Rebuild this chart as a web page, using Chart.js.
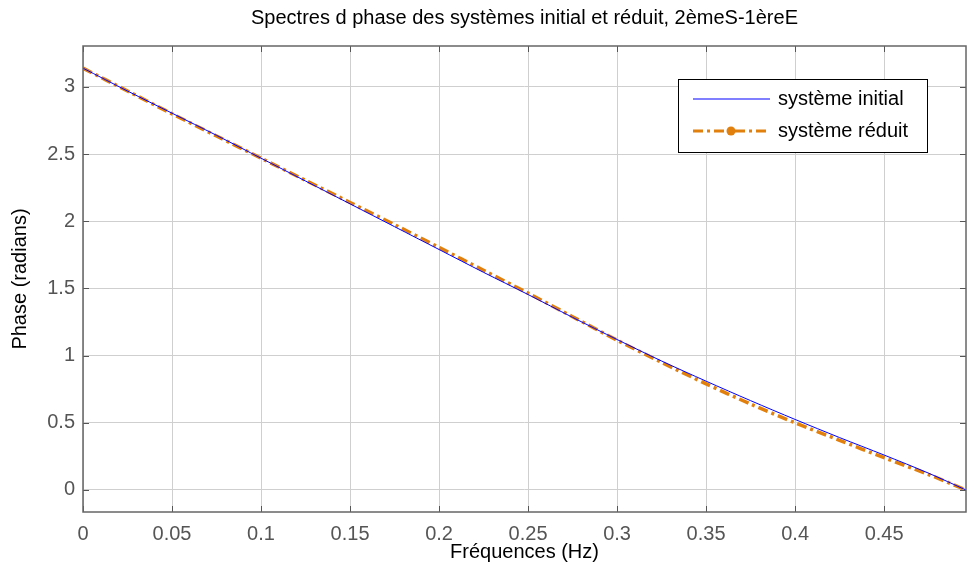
<!DOCTYPE html>
<html>
<head>
<meta charset="utf-8">
<script src="https://cdn.jsdelivr.net/npm/chart.js@4/dist/chart.umd.min.js"></script>
<style>
  html, body { margin: 0; padding: 0; background: #fff; }
  #wrap { width: 967px; height: 576px; }
</style>
</head>
<body>
<div id="wrap"><canvas id="phaseChart" width="967" height="576"></canvas></div>
<script>
// Data
const frequences = [0, 0.025, 0.05, 0.075, 0.1, 0.125, 0.15, 0.175, 0.2, 0.225, 0.25,
    0.275, 0.3, 0.325, 0.35, 0.375, 0.4, 0.425, 0.45, 0.475, 0.496];
const phaseInitial = [3.14, 2.97, 2.805, 2.64, 2.47, 2.30, 2.13, 1.96, 1.79, 1.62, 1.455,
    1.285, 1.12, 0.96, 0.81, 0.665, 0.525, 0.39, 0.26, 0.125, 0.0];
const phaseReduit = [3.14, 2.97, 2.80, 2.635, 2.47, 2.305, 2.14, 1.975, 1.805, 1.635, 1.465,
    1.29, 1.115, 0.95, 0.79, 0.64, 0.50, 0.37, 0.24, 0.115, 0.0];
const xTicks = [0, 0.05, 0.1, 0.15, 0.2, 0.25, 0.3, 0.35, 0.4, 0.45];
const yTicks = [0, 0.5, 1, 1.5, 2, 2.5, 3];
const seriesNames = ['système initial', 'système réduit'];

const BLUE = '#0000ff';
const ORANGE = 'rgb(226,128,14)';
const ORANGE_DASH = [10, 4, 3, 4];

function toPoints(ys) {
    return frequences.map((f, i) => ({ x: f, y: ys[i] }));
}

// Keep only the round tick values
function keepTicks(list) {
    return function (scale) {
        scale.ticks = list.map(v => ({ value: v }));
    };
}

// MATLAB style small inward ticks on the box
const boxTicks = {
    id: 'boxTicks',
    afterDatasetsDraw(chart) {
        const { ctx, chartArea: a, scales } = chart;
        ctx.save();
        ctx.strokeStyle = '#555';
        ctx.lineWidth = 1;
        ctx.beginPath();
        xTicks.forEach(v => {
            const px = Math.round(scales.x.getPixelForValue(v)) + 0.5;
            ctx.moveTo(px, a.bottom); ctx.lineTo(px, a.bottom - 6);
            ctx.moveTo(px, a.top); ctx.lineTo(px, a.top + 6);
        });
        yTicks.forEach(v => {
            const py = Math.round(scales.y.getPixelForValue(v)) + 0.5;
            ctx.moveTo(a.left, py); ctx.lineTo(a.left + 6, py);
            ctx.moveTo(a.right, py); ctx.lineTo(a.right - 6, py);
        });
        ctx.stroke();
        // box
        ctx.strokeStyle = '#666';
        ctx.lineWidth = 1.5;
        ctx.strokeRect(a.left, a.top, a.right - a.left, a.bottom - a.top);
        ctx.restore();
    }
};

// Legend box in the upper right corner
const boxLegend = {
    id: 'boxLegend',
    afterDraw(chart) {
        const { ctx, chartArea: a } = chart;
        const w = 249, h = 73;
        const x0 = a.right - 39 - w, y0 = a.top + 33;
        ctx.save();
        ctx.fillStyle = '#fff';
        ctx.fillRect(x0, y0, w, h);
        ctx.strokeStyle = '#000';
        ctx.lineWidth = 1;
        ctx.strokeRect(x0 + 0.5, y0 + 0.5, w, h);

        const rowY = [y0 + 20, y0 + 52];
        // système initial
        ctx.strokeStyle = BLUE;
        ctx.lineWidth = 1;
        ctx.beginPath();
        ctx.moveTo(x0 + 15, rowY[0]); ctx.lineTo(x0 + 92, rowY[0]);
        ctx.stroke();
        // système réduit
        ctx.strokeStyle = ORANGE;
        ctx.lineWidth = 3;
        ctx.setLineDash(ORANGE_DASH);
        ctx.beginPath();
        ctx.moveTo(x0 + 15, rowY[1]); ctx.lineTo(x0 + 92, rowY[1]);
        ctx.stroke();
        ctx.setLineDash([]);
        ctx.fillStyle = ORANGE;
        ctx.beginPath();
        ctx.arc(x0 + 53, rowY[1], 4.5, 0, Math.PI * 2);
        ctx.fill();

        ctx.fillStyle = '#000';
        ctx.font = '20px "Liberation Sans", Arial, sans-serif';
        ctx.textBaseline = 'middle';
        ctx.textAlign = 'left';
        ctx.fillText(seriesNames[0], x0 + 100, rowY[0]);
        ctx.fillText(seriesNames[1], x0 + 100, rowY[1]);
        ctx.restore();
    }
};

const fontFamily = '"Liberation Sans", Arial, sans-serif';

const chart = new Chart(document.getElementById('phaseChart').getContext('2d'), {
    type: 'line',
    data: {
        datasets: [
            {
                label: seriesNames[0],
                data: toPoints(phaseInitial),
                borderColor: BLUE,
                borderWidth: 1,
                pointRadius: 0,
                tension: 0.3,
                order: 1
            },
            {
                label: seriesNames[1],
                data: toPoints(phaseReduit),
                borderColor: ORANGE,
                borderWidth: 3.5,
                borderDash: ORANGE_DASH,
                pointRadius: 0,
                tension: 0.3,
                order: 2
            }
        ]
    },
    options: {
        responsive: false,
        animation: false,
        layout: { padding: { left: 0, right: 1, top: 0, bottom: 0 } },
        plugins: {
            legend: { display: false },
            tooltip: { enabled: false },
            title: {
                display: true,
                fullSize: false, // centre over the plot area like MATLAB
                text: 'Spectres d phase des systèmes initial et réduit, 2èmeS-1èreE',
                color: '#000',
                font: { family: fontFamily, size: 20, weight: 'normal', lineHeight: 1.2 },
                padding: { top: 6, bottom: 16 }
            }
        },
        scales: {
            x: {
                type: 'linear',
                min: 0,
                max: 0.496,
                afterBuildTicks: keepTicks(xTicks),
                afterFit: s => { s.height = 64; },
                grid: { color: '#cfcfcf', lineWidth: 1, drawTicks: false },
                border: { display: false },
                ticks: {
                    color: '#555',
                    padding: 10,
                    font: { family: fontFamily, size: 20 },
                    callback: v => String(Math.round(v * 100) / 100)
                },
                title: {
                    display: true,
                    text: 'Fréquences (Hz)',
                    color: '#000',
                    font: { family: fontFamily, size: 20 },
                    padding: { top: 0, bottom: 12 }
                }
            },
            y: {
                type: 'linear',
                min: -0.164,
                max: 3.305,
                afterBuildTicks: keepTicks(yTicks),
                afterFit: s => { s.width = 83; },
                grid: { color: '#cfcfcf', lineWidth: 1, drawTicks: false },
                border: { display: false },
                ticks: {
                    color: '#555',
                    padding: 8,
                    font: { family: fontFamily, size: 20 },
                    callback: v => String(Math.round(v * 10) / 10)
                },
                title: {
                    display: true,
                    text: 'Phase (radians)',
                    color: '#000',
                    font: { family: fontFamily, size: 20 },
                    padding: { top: 8, bottom: 0 }
                }
            }
        }
    },
    plugins: [boxTicks, boxLegend]
});
</script>
</body>
</html>
